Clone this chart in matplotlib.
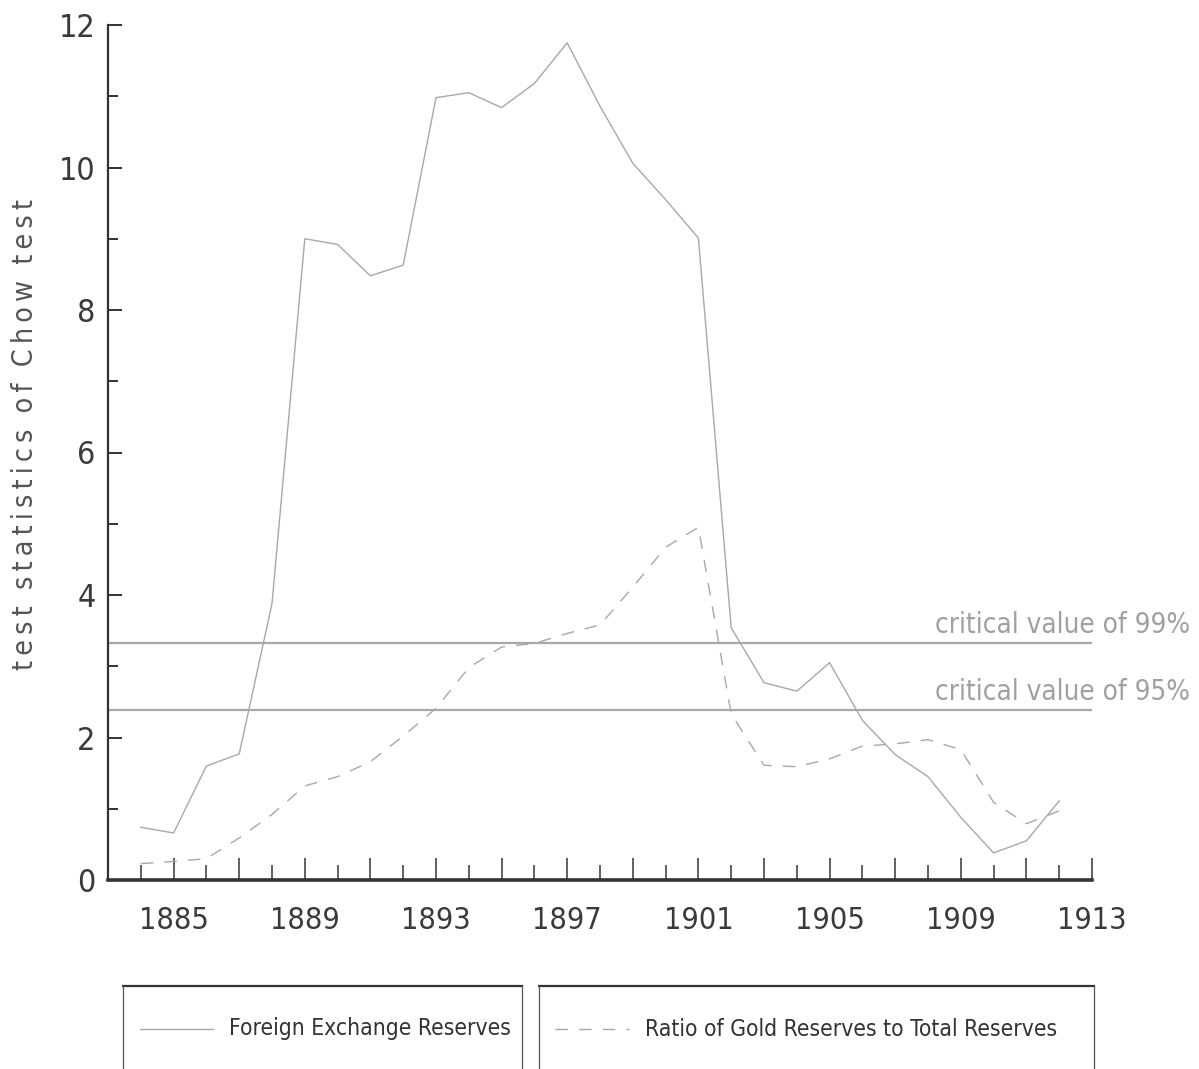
import matplotlib.pyplot as plt
import matplotlib.transforms as mtrans
from matplotlib.lines import Line2D
from matplotlib.ticker import FuncFormatter

# данные (читал с картинки)
years = list(range(1884, 1913))
foreign_exchange = [0.74, 0.66, 1.60, 1.77, 3.88, 9.00, 8.92, 8.48, 8.63, 10.98,
                    11.05, 10.84, 11.18, 11.75, 10.86, 10.06, 9.55, 9.01, 3.54, 2.77,
                    2.65, 3.05, 2.24, 1.76, 1.45, 0.88, 0.38, 0.55, 1.11]
gold_ratio = [0.23, 0.26, 0.30, 0.59, 0.92, 1.32, 1.45, 1.66, 2.02, 2.41,
              2.98, 3.27, 3.32, 3.46, 3.58, 4.11, 4.67, 4.95, 2.33, 1.61,
              1.59, 1.70, 1.88, 1.91, 1.97, 1.83, 1.09, 0.79, 0.97]
crit_values = [3.32, 2.38]
crit_labels = ['critical value of 99%', 'critical value of 95%']
legend_labels = ['Foreign Exchange Reserves', 'Ratio of Gold Reserves to Total Reserves']

plt.rcParams['font.family'] = ['DejaVu Sans']
plt.rcParams['font.stretch'] = 'condensed'
plt.rcParams['font.weight'] = 'light'

W, H = 1199, 1069
fig = plt.figure(figsize=(W / 100, H / 100), dpi=100)
ax = fig.add_axes([108 / W, 1 - 880 / H, (1092 - 108) / W, (880 - 25) / H])

line_grey = '#a8a8a8'
ax.plot(years, foreign_exchange, color=line_grey, lw=1.0)
ax.plot(years, gold_ratio, color=line_grey, lw=1.0, dashes=(9, 8))

# критические значения, подпись сдвинута вправо за ось
blend = mtrans.blended_transform_factory(fig.transFigure, ax.transData)
for v, lab in zip(crit_values, crit_labels):
    ax.axhline(v, color=line_grey, lw=1.6)
    ax.text(1190 / W, v + 0.06, lab, transform=blend, ha='right', va='bottom',
            fontsize=20, color='#a0a0a0', clip_on=False)

ax.set_xlim(1883, 1913)
ax.set_ylim(0, 12)
ax.set_xticks(range(1885, 1914, 2))
ax.set_xticks(range(1884, 1914, 2), minor=True)
ax.xaxis.set_major_formatter(FuncFormatter(lambda x, p: str(int(x)) if (int(x) - 1885) % 4 == 0 else ''))
ax.set_yticks(range(0, 13, 2))
ax.set_yticks(range(1, 13, 2), minor=True)

ax.xaxis.set_tick_params(which='major', direction='in', length=16, width=1.2, color='#444444',
                         pad=19, labelsize=22, labelcolor='#3a3a3a')
ax.xaxis.set_tick_params(which='minor', direction='in', length=11, width=1.2, color='#444444')
ax.yaxis.set_tick_params(which='major', direction='in', length=10, width=1.4, color='#333333',
                         pad=9, labelsize=23, labelcolor='#3a3a3a')
ax.yaxis.set_tick_params(which='minor', direction='in', length=7, width=1.4, color='#333333')

for s in ['top', 'right']:
    ax.spines[s].set_visible(False)
ax.spines['left'].set_linewidth(1.6)
ax.spines['left'].set_color('#333333')
ax.spines['bottom'].set_linewidth(2.6)
ax.spines['bottom'].set_color('#333333')

ylab = '  '.join('\u2009'.join(w) for w in 'test statistics of Chow test'.split())
fig.text(25 / W, 1 - 435 / H, ylab, rotation=90, ha='center', va='center',
         fontsize=20.5, color='#555555')

# легенда в двух рамках снизу
boxes = [(123, 522), (539, 1094)]
for (x0, x1), lab, ls in zip(boxes, legend_labels, ['-', '--']):
    fig.add_artist(Line2D([x0 / W, x1 / W], [1 - 986 / H] * 2, color='#333333', lw=1.6))
    for xx in (x0, x1):
        fig.add_artist(Line2D([xx / W] * 2, [1 - 986 / H, 0], color='#555555', lw=0.9))
    ly = 1 - 1029 / H
    if ls == '-':
        fig.add_artist(Line2D([(x0 + 17) / W, (x0 + 90) / W], [ly, ly], color=line_grey, lw=1.0))
    else:
        fig.add_artist(Line2D([(x0 + 16) / W, (x0 + 90) / W], [ly, ly], color=line_grey, lw=1.0,
                              dashes=(9, 8)))
    fig.text((x0 + 106) / W, ly, lab, ha='left', va='center', fontsize=16.4, color='#333333')

fig.savefig('out.png', dpi=100)
